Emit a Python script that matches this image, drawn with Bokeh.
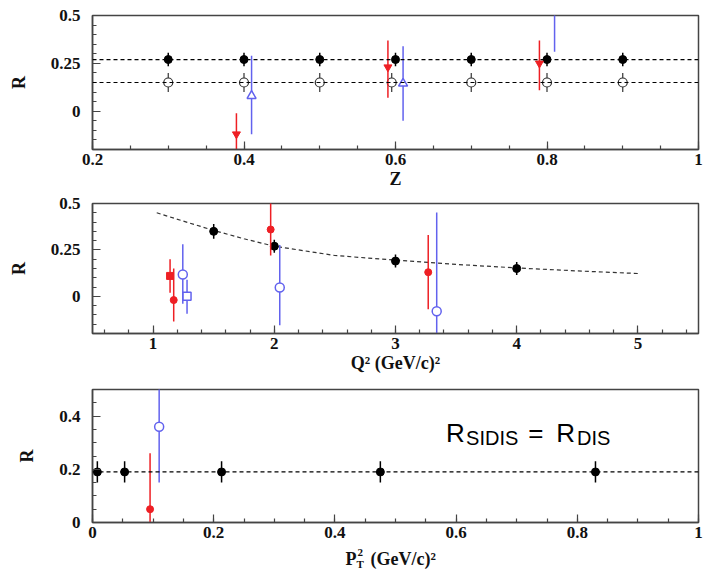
from bokeh.plotting import figure
from bokeh.layouts import column
from bokeh.models import ColumnDataSource, Label, FixedTicker, Range1d, NumeralTickFormatter, Span
from bokeh.embed import file_html
from bokeh.resources import INLINE
from bokeh.core.properties import value

# ---------------- data: panel 1 (R vs z) ----------------
z_filled = [0.3, 0.4, 0.5, 0.6, 0.7, 0.8, 0.9]
r_z_filled = [0.27, 0.27, 0.27, 0.27, 0.27, 0.27, 0.27]
r_z_filled_err = [0.035, 0.035, 0.035, 0.035, 0.035, 0.035, 0.035]
z_open = [0.3, 0.4, 0.5, 0.595, 0.7, 0.8, 0.9]
r_z_open = [0.15, 0.15, 0.15, 0.15, 0.15, 0.15, 0.15]
r_z_open_err = [0.05, 0.05, 0.05, 0.05, 0.05, 0.05, 0.05]
z_fit_levels = [0.27, 0.15]
z_red = [0.39, 0.59, 0.79]
r_z_red = [-0.12, 0.23, 0.25]
r_z_red_lo = [-0.26, 0.07, 0.11]
r_z_red_hi = [-0.01, 0.37, 0.37]
z_blue = [0.41, 0.61, 0.81]
r_z_blue = [0.08, 0.145, 0.62]
r_z_blue_lo = [-0.12, -0.05, 0.31]
r_z_blue_hi = [0.29, 0.34, 0.93]

# ---------------- data: panel 2 (R vs Q2) ----------------
q2_filled = [1.5, 2.0, 3.0, 4.0]
r_q2_filled = [0.35, 0.27, 0.19, 0.15]
r_q2_filled_err = [0.04, 0.035, 0.035, 0.035]
q2_curve = [1.03, 1.25, 1.5, 1.75, 2.0, 2.5, 3.0, 3.5, 4.0, 4.5, 5.0]
r_curve = [0.45, 0.405, 0.355, 0.31, 0.27, 0.22, 0.195, 0.172, 0.153, 0.137, 0.123]
q2_red_circ = [1.17, 1.97, 3.27]
r_q2_red_circ = [-0.02, 0.36, 0.13]
r_q2_red_circ_lo = [-0.135, 0.22, -0.07]
r_q2_red_circ_hi = [0.15, 0.52, 0.33]
q2_red_sq = [1.14]
r_q2_red_sq = [0.11]
r_q2_red_sq_lo = [0.02]
r_q2_red_sq_hi = [0.20]
q2_blue_circ = [1.245, 2.045, 3.34]
r_q2_blue_circ = [0.118, 0.048, -0.08]
r_q2_blue_circ_lo = [-0.04, -0.155, -0.61]
r_q2_blue_circ_hi = [0.28, 0.276, 0.452]
q2_blue_sq = [1.28]
r_q2_blue_sq = [0.0]
r_q2_blue_sq_lo = [-0.094]
r_q2_blue_sq_hi = [0.09]

# ---------------- data: panel 3 (R vs PT2) ----------------
pt2_filled = [0.008, 0.053, 0.213, 0.475, 0.83]
r_pt2_filled = [0.19, 0.19, 0.19, 0.19, 0.19]
r_pt2_filled_err = [0.04, 0.04, 0.04, 0.04, 0.04]
pt2_fit_level = [0.19]
pt2_red = [0.095]
r_pt2_red = [0.05]
r_pt2_red_lo = [-0.16]
r_pt2_red_hi = [0.26]
pt2_blue = [0.11]
r_pt2_blue = [0.36]
r_pt2_blue_lo = [0.15]
r_pt2_blue_hi = [0.57]

RED = "#ee1f24"
BLUE = "#6262ee"
FRAME = "#444444"
SERIF = "Liberation Serif"
SANS = "Liberation Sans"


def steps(a, b, d):
    n = int(round((b - a) / d))
    return [round(a + i * d, 4) for i in range(n + 1)]


def make_fig(height, xr, yr, top, bottom, xticks, xminor, yticks, yminor, xlabel):
    p = figure(width=708, height=height, x_range=Range1d(*xr), y_range=Range1d(*yr),
               output_backend="svg", toolbar_location=None,
               min_border_left=92, min_border_right=10,
               min_border_top=top, min_border_bottom=bottom)
    p.grid.visible = False
    p.outline_line_color = FRAME
    p.outline_line_width = 1.5
    p.outline_line_alpha = 1.0
    for ax in (p.xaxis[0], p.yaxis[0]):
        ax.axis_line_color = FRAME
        ax.axis_line_width = 1.5
        ax.major_tick_line_color = FRAME
        ax.minor_tick_line_color = FRAME
        ax.major_tick_line_width = 1.2
        ax.minor_tick_line_width = 1.2
        ax.major_tick_out = 0
        ax.minor_tick_out = 0
        ax.major_tick_in = 8
        ax.minor_tick_in = 4
        ax.major_label_text_font = SERIF
        ax.major_label_text_font_style = "bold"
        ax.major_label_text_font_size = "17px"
        ax.major_label_text_color = "#111111"
        ax.axis_label_text_font = SERIF
        ax.axis_label_text_font_style = "bold"
        ax.axis_label_text_font_size = "18px"
        ax.axis_label_text_color = "#111111"
        ax.formatter = NumeralTickFormatter(format="0.[00]")
    p.xaxis.ticker = FixedTicker(ticks=xticks, minor_ticks=xminor)
    p.yaxis.ticker = FixedTicker(ticks=yticks, minor_ticks=yminor)
    p.xaxis.major_label_standoff = 4
    p.xaxis.axis_label_standoff = 1
    p.yaxis.major_label_standoff = 12
    p.yaxis.axis_label_standoff = 19
    p.yaxis.axis_label = "R"
    if xlabel:
        p.xaxis.axis_label = xlabel
    return p


def errbars(p, x, lo, hi, color, width=1.5):
    src = ColumnDataSource(dict(x=x, lo=lo, hi=hi))
    p.segment(x0="x", y0="lo", x1="x", y1="hi", source=src, line_color=color, line_width=width)


def sym(x, y, e):
    return [a - b for a, b in zip(y, e)], [a + b for a, b in zip(y, e)]


# ---------------- panel 1 ----------------
p1 = make_fig(195, (0.2, 1.0), (-0.2, 0.5), 15, 46,
              [0.2, 0.4, 0.6, 0.8, 1.0], steps(0.2, 1.0, 0.05),
              [0, 0.25, 0.5], steps(-0.2, 0.5, 0.05), "Z")
for lvl in z_fit_levels:
    p1.add_layout(Span(location=lvl, dimension="width", line_color="black",
                       line_dash="4 3", line_width=1.2))
lo, hi = sym(z_filled, r_z_filled, r_z_filled_err)
errbars(p1, z_filled, lo, hi, "black")
p1.scatter(z_filled, r_z_filled, marker="circle", size=8, fill_color="black", line_color="black")
lo, hi = sym(z_open, r_z_open, r_z_open_err)
errbars(p1, z_open, lo, hi, "#333333", 1.2)
p1.scatter(z_open, r_z_open, marker="circle", size=9, fill_color="white", line_color="#333333", line_width=1.2)
errbars(p1, z_red, r_z_red_lo, r_z_red_hi, RED)
p1.scatter(z_red, r_z_red, marker="inverted_triangle", size=8, fill_color=RED, line_color=RED)
errbars(p1, z_blue, r_z_blue_lo, r_z_blue_hi, BLUE)
p1.scatter(z_blue, r_z_blue, marker="triangle", size=9, fill_color="white", line_color=BLUE, line_width=1.5)

# ---------------- panel 2 ----------------
p2 = make_fig(180, (0.5, 5.5), (-0.2, 0.5), 8, 40,
              [1, 2, 3, 4, 5], steps(0.6, 5.4, 0.2),
              [0, 0.25, 0.5], steps(-0.2, 0.5, 0.05), "Q² (GeV/c)²")
p2.line(q2_curve, r_curve, line_color="#333333", line_dash="4 3", line_width=1.2)
lo, hi = sym(q2_filled, r_q2_filled, r_q2_filled_err)
errbars(p2, q2_filled, lo, hi, "black")
p2.scatter(q2_filled, r_q2_filled, marker="circle", size=8, fill_color="black", line_color="black")
errbars(p2, q2_red_sq, r_q2_red_sq_lo, r_q2_red_sq_hi, RED)
p2.scatter(q2_red_sq, r_q2_red_sq, marker="square", size=7, fill_color=RED, line_color=RED)
errbars(p2, q2_red_circ, r_q2_red_circ_lo, r_q2_red_circ_hi, RED)
p2.scatter(q2_red_circ, r_q2_red_circ, marker="circle", size=7, fill_color=RED, line_color=RED)
errbars(p2, q2_blue_circ, r_q2_blue_circ_lo, r_q2_blue_circ_hi, BLUE)
p2.scatter(q2_blue_circ, r_q2_blue_circ, marker="circle", size=9, fill_color="white", line_color=BLUE, line_width=1.5)
errbars(p2, q2_blue_sq, r_q2_blue_sq_lo, r_q2_blue_sq_hi, BLUE)
p2.scatter(q2_blue_sq, r_q2_blue_sq, marker="square", size=8, fill_color="white", line_color=BLUE, line_width=1.5)

# ---------------- panel 3 ----------------
p3 = make_fig(170, (0.0, 1.0), (0.0, 0.5), 14, 23,
              [0, 0.2, 0.4, 0.6, 0.8, 1.0], steps(0.0, 1.0, 0.05),
              [0, 0.2, 0.4], steps(0.0, 0.5, 0.05), None)
for lvl in pt2_fit_level:
    p3.add_layout(Span(location=lvl, dimension="width", line_color="black",
                       line_dash="4 3", line_width=1.2))
lo, hi = sym(pt2_filled, r_pt2_filled, r_pt2_filled_err)
errbars(p3, pt2_filled, lo, hi, "black")
p3.scatter(pt2_filled, r_pt2_filled, marker="circle", size=8, fill_color="black", line_color="black")
errbars(p3, pt2_red, r_pt2_red_lo, r_pt2_red_hi, RED)
p3.scatter(pt2_red, r_pt2_red, marker="circle", size=7, fill_color=RED, line_color=RED)
errbars(p3, pt2_blue, r_pt2_blue_lo, r_pt2_blue_hi, BLUE)
p3.scatter(pt2_blue, r_pt2_blue, marker="circle", size=9, fill_color="white", line_color=BLUE, line_width=1.5)

# equation label
for txt, x, y, fs in [("R", 0.5835, 0.338, "26px"), ("SIDIS", 0.6165, 0.317, "20px"),
                      ("=", 0.719, 0.338, "26px"), ("R", 0.7653, 0.338, "26px"),
                      ("DIS", 0.7995, 0.317, "20px")]:
    p3.add_layout(Label(x=x, y=y, text=txt, text_font=SANS, text_font_size=fs,
                        text_color="black", text_baseline="alphabetic"))

# x-axis label row for panel 3: P_T^2 (GeV/c)^2  (pixel coordinates, x from frame left)
p4 = figure(width=708, height=28, x_range=Range1d(0, 606), y_range=Range1d(0, 28),
            output_backend="svg", toolbar_location=None,
            min_border_left=92, min_border_right=10, min_border_top=0, min_border_bottom=0)
p4.axis.visible = False
p4.grid.visible = False
p4.outline_line_color = None
for txt, x, y, fs in [("P", 253, 15, "18px"), ("T", 264, 10, "11px"),
                      ("2", 265, 21, "11px"), ("(GeV/c)²", 278, 15, "18px")]:
    p4.text(x=[x], y=[y], text=[txt], text_font=value(SERIF), text_font_style="bold",
            text_font_size=fs, text_color="#111111", text_baseline="alphabetic")

layout = column(p1, p2, p3, p4, spacing=0)
open("out.html", "w").write(file_html(layout, INLINE))
